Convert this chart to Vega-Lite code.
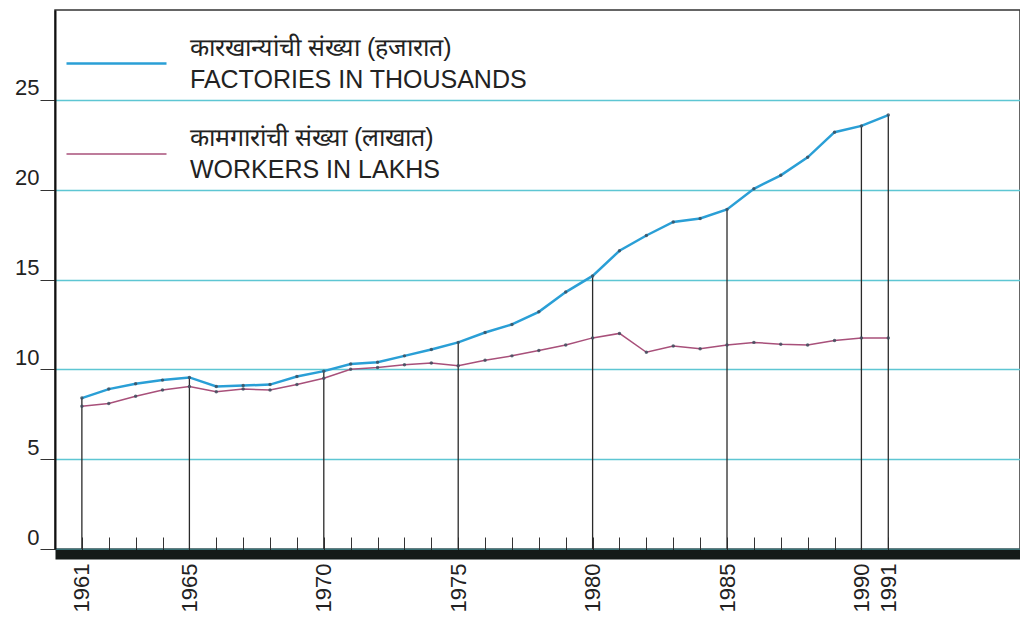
{
  "$schema": "https://vega.github.io/schema/vega-lite/v6.json",
  "width": 965,
  "height": 539,
  "autosize": {"type": "none"},
  "padding": {"left": 55, "top": 10, "right": 0, "bottom": 68},
  "background": "white",
  "config": {
    "view": {"stroke": "#333", "strokeWidth": 1.5},
    "font": "Liberation Sans",
    "axis": {"labelOverlap": false}
  },
  "data": {
    "values": [
      {"year": 1961, "factories": 8.4, "workers": 7.95},
      {"year": 1962, "factories": 8.9, "workers": 8.1},
      {"year": 1963, "factories": 9.2, "workers": 8.5},
      {"year": 1964, "factories": 9.4, "workers": 8.85},
      {"year": 1965, "factories": 9.55, "workers": 9.05},
      {"year": 1966, "factories": 9.05, "workers": 8.75},
      {"year": 1967, "factories": 9.1, "workers": 8.9},
      {"year": 1968, "factories": 9.15, "workers": 8.85},
      {"year": 1969, "factories": 9.6, "workers": 9.15},
      {"year": 1970, "factories": 9.9, "workers": 9.5},
      {"year": 1971, "factories": 10.3, "workers": 10.0},
      {"year": 1972, "factories": 10.4, "workers": 10.1},
      {"year": 1973, "factories": 10.75, "workers": 10.25},
      {"year": 1974, "factories": 11.1, "workers": 10.35},
      {"year": 1975, "factories": 11.5, "workers": 10.2},
      {"year": 1976, "factories": 12.05, "workers": 10.5},
      {"year": 1977, "factories": 12.5, "workers": 10.75},
      {"year": 1978, "factories": 13.2, "workers": 11.05},
      {"year": 1979, "factories": 14.3, "workers": 11.35},
      {"year": 1980, "factories": 15.2, "workers": 11.75},
      {"year": 1981, "factories": 16.6, "workers": 12.0},
      {"year": 1982, "factories": 17.45, "workers": 10.95},
      {"year": 1983, "factories": 18.2, "workers": 11.3},
      {"year": 1984, "factories": 18.4, "workers": 11.15},
      {"year": 1985, "factories": 18.9, "workers": 11.35},
      {"year": 1986, "factories": 20.05, "workers": 11.5},
      {"year": 1987, "factories": 20.8, "workers": 11.4},
      {"year": 1988, "factories": 21.8, "workers": 11.35},
      {"year": 1989, "factories": 23.2, "workers": 11.6},
      {"year": 1990, "factories": 23.55, "workers": 11.75},
      {"year": 1991, "factories": 24.15, "workers": 11.75}
    ]
  },
  "encoding": {
    "x": {
      "field": "year", "type": "quantitative", "title": null,
      "scale": {"domain": [1960, 1995.9], "nice": false, "zero": false},
      "axis": {
        "values": [1961,1962,1963,1964,1965,1966,1967,1968,1969,1970,1971,1972,1973,1974,1975,1976,1977,1978,1979,1980,1981,1982,1983,1984,1985,1986,1987,1988,1989,1990,1991],
        "format": "d",
        "labelExpr": "indexof([1961,1965,1970,1975,1980,1985,1990,1991], datum.value) >= 0 ? datum.label : ''",
        "labelAngle": -90,
        "labelFontSize": 22,
        "labelColor": "#222",
        "labelPadding": 26,
        "labelOverlap": false,
        "labelBound": false,
        "labelFlush": false,
        "tickSize": -17,
        "tickColor": "#333",
        "tickWidth": 1,
        "domainWidth": 10,
        "domainColor": "#151a18",
        "offset": 5,
        "grid": false
      }
    }
  },
  "layer": [
    {
      "transform": [{"filter": {"field": "year", "oneOf": [1961, 1965, 1970, 1975, 1980, 1985, 1990, 1991]}}],
      "mark": {"type": "rule", "color": "#2a2a2a", "strokeWidth": 1.3},
      "encoding": {
        "y": {
          "field": "factories", "type": "quantitative", "title": null,
          "scale": {"domain": [0, 30], "nice": false},
          "axis": {
            "values": [0, 5, 10, 15, 20, 25],
            "labelFontSize": 22,
            "labelColor": "#222",
            "labelPadding": 1,
            "labelBaseline": "bottom",
            "tickSize": 15,
            "tickColor": "#333",
            "domainColor": "#111",
            "domainWidth": 2,
            "grid": true,
            "gridColor": "#5ec6d3",
            "gridWidth": 1.5
          }
        },
        "y2": {"datum": 0}
      }
    },
    {
      "transform": [{"fold": ["factories", "workers"], "as": ["series", "value"]}],
      "mark": {"type": "line"},
      "encoding": {
        "y": {"field": "value", "type": "quantitative", "title": null},
        "strokeWidth": {"field": "series", "type": "nominal", "scale": {"domain": ["factories", "workers"], "range": [2.5, 1.5]}, "legend": null},
        "color": {
          "field": "series", "type": "nominal",
          "scale": {"domain": ["factories", "workers"], "range": ["#2a9fd6", "#a8507a"]},
          "legend": {
            "title": null,
            "orient": "none",
            "legendX": 10,
            "legendY": 2,
            "symbolType": "stroke",
            "symbolSize": 10000,
            "symbolStrokeWidth": 2.5,
            "labelFontSize": 25,
            "labelColor": "#222",
            "labelOffset": 22,
            "labelLimit": 0,
            "rowPadding": 10,
            "labelExpr": "datum.value == 'factories' ? ['कारखान्यांची  संख्या (हजारात)', 'FACTORIES IN  THOUSANDS'] : ['कामगारांची  संख्या (लाखात)', 'WORKERS IN LAKHS']",
            "encode": {
              "labels": {"update": {"lineHeight": {"value": 32}, "dy": {"value": -16}}},
              "symbols": {"update": {"strokeWidth": {"signal": "datum.value == 'factories' ? 3 : 1.5"}}}
            }
          }
        }
      }
    },
    {
      "transform": [{"fold": ["factories", "workers"], "as": ["series", "value"]}],
      "mark": {"type": "point", "filled": true, "size": 12, "color": "#3a4a5a", "opacity": 0.8},
      "encoding": {
        "y": {"field": "value", "type": "quantitative", "title": null}
      }
    }
  ]
}
